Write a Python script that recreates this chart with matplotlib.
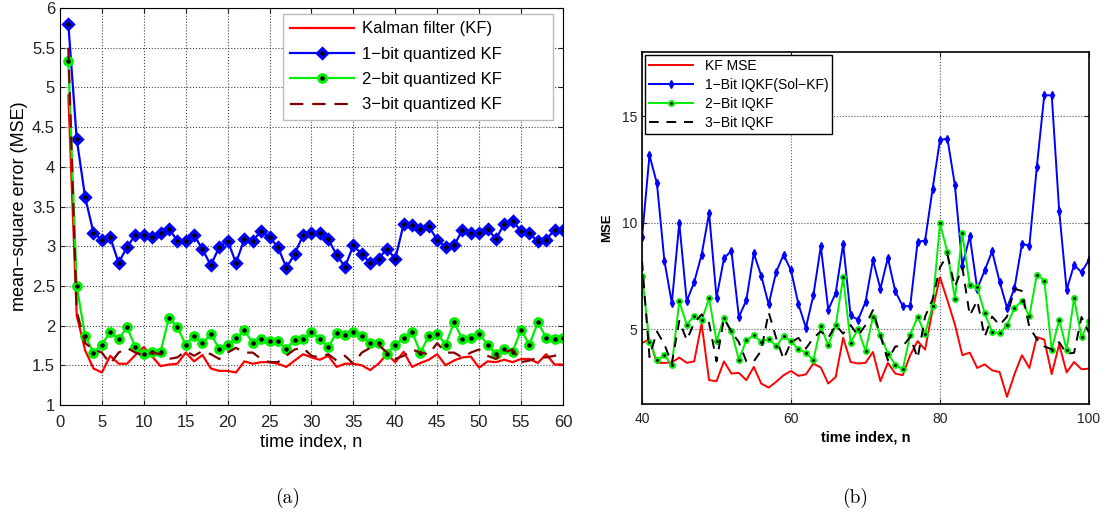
import numpy as np
import matplotlib
matplotlib.use("Agg")
import matplotlib.pyplot as plt

plt.rcParams['font.family'] = ['Liberation Sans', 'DejaVu Sans']

# (a) MSE versus time index, n = 1..60
n_a = np.arange(1, 61)
kf_a = [4.90, 2.13, 1.69, 1.46, 1.41, 1.62, 1.52, 1.52, 1.63, 1.73,
        1.61, 1.49, 1.51, 1.52, 1.66, 1.55, 1.63, 1.46, 1.43, 1.43,
        1.41, 1.55, 1.52, 1.54, 1.54, 1.52, 1.48, 1.56, 1.64, 1.60,
        1.57, 1.62, 1.48, 1.52, 1.52, 1.50, 1.44, 1.52, 1.64, 1.54,
        1.67, 1.48, 1.53, 1.57, 1.64, 1.50, 1.56, 1.60, 1.61, 1.47,
        1.55, 1.54, 1.57, 1.54, 1.58, 1.58, 1.53, 1.64, 1.51, 1.51]
bit1_a = [5.80, 4.35, 3.62, 3.17, 3.08, 3.11, 2.79, 2.99, 3.14, 3.14,
          3.11, 3.16, 3.22, 3.07, 3.07, 3.14, 2.96, 2.76, 2.99, 3.07,
          2.79, 3.09, 3.07, 3.19, 3.11, 2.99, 2.73, 2.90, 3.14, 3.16,
          3.16, 3.09, 2.89, 2.74, 3.01, 2.90, 2.79, 2.84, 2.97, 2.84,
          3.28, 3.27, 3.22, 3.25, 3.08, 2.99, 3.01, 3.20, 3.16, 3.16,
          3.22, 3.09, 3.28, 3.32, 3.19, 3.16, 3.06, 3.08, 3.21, 3.21]
bit2_a = [5.33, 2.50, 1.87, 1.66, 1.76, 1.92, 1.83, 1.98, 1.73, 1.64,
          1.67, 1.67, 2.10, 1.98, 1.76, 1.87, 1.78, 1.89, 1.71, 1.76,
          1.84, 1.94, 1.78, 1.83, 1.81, 1.80, 1.71, 1.82, 1.83, 1.92,
          1.83, 1.73, 1.91, 1.88, 1.92, 1.87, 1.78, 1.78, 1.64, 1.76,
          1.84, 1.92, 1.66, 1.87, 1.90, 1.76, 2.04, 1.83, 1.84, 1.90,
          1.76, 1.64, 1.71, 1.67, 1.95, 1.76, 2.04, 1.85, 1.83, 1.85]
bit3_a = [5.50, 2.18, 1.78, 1.70, 1.66, 1.52, 1.66, 1.72, 1.66, 1.62,
          1.66, 1.64, 1.58, 1.60, 1.68, 1.62, 1.68, 1.64, 1.58, 1.66,
          1.72, 1.66, 1.66, 1.58, 1.54, 1.54, 1.62, 1.70, 1.72, 1.62,
          1.60, 1.64, 1.56, 1.62, 1.52, 1.66, 1.72, 1.76, 1.66, 1.58,
          1.62, 1.70, 1.66, 1.64, 1.78, 1.66, 1.66, 1.60, 1.66, 1.70,
          1.62, 1.58, 1.66, 1.70, 1.54, 1.56, 1.60, 1.60, 1.62, 1.65]

# (b) MSE versus time index, n = 40..100
n_b = np.arange(40, 101)
kf_b = [4.36, 4.53, 3.43, 3.43, 3.45, 3.68, 3.43, 3.50, 5.27, 2.62,
        2.57, 3.50, 2.93, 2.96, 2.62, 3.24, 2.46, 2.27, 2.54, 2.85,
        3.05, 2.82, 2.89, 3.40, 3.21, 2.46, 2.77, 4.61, 3.47, 3.40,
        3.43, 3.94, 2.57, 3.43, 2.93, 2.85, 3.79, 4.45, 4.05, 5.92,
        7.44, 6.36, 5.23, 3.79, 3.91, 3.19, 3.36, 3.08, 3.00, 1.84,
        2.90, 3.79, 3.19, 4.64, 4.52, 2.90, 4.30, 2.98, 3.47, 3.13, 3.16]
bit1_b = [9.31, 13.16, 11.84, 8.22, 6.23, 9.99, 6.32, 7.21, 8.50, 10.45,
          6.48, 8.33, 8.69, 5.58, 6.36, 8.57, 7.52, 6.17, 7.68, 8.50,
          7.76, 6.17, 5.08, 6.59, 8.89, 5.92, 6.70, 9.00, 5.65, 5.45,
          6.28, 8.25, 6.90, 8.35, 6.78, 6.09, 6.09, 9.11, 9.16, 11.57,
          13.88, 13.94, 11.76, 7.99, 9.36, 6.90, 7.76, 8.66, 7.24, 6.01,
          6.93, 9.00, 8.93, 12.62, 15.97, 15.97, 10.56, 6.85, 8.02, 7.68, 8.25]
bit2_b = [7.52, 4.41, 3.55, 3.79, 3.32, 6.31, 5.22, 5.62, 5.42, 6.46,
          4.45, 5.55, 4.92, 3.58, 4.49, 4.72, 4.41, 4.56, 4.21, 4.67,
          4.44, 4.07, 3.91, 3.55, 5.14, 4.25, 5.19, 7.44, 4.38, 5.00,
          3.99, 5.58, 4.75, 3.86, 3.35, 3.12, 4.75, 5.58, 4.80, 6.09,
          9.97, 8.61, 6.43, 9.50, 7.06, 6.98, 5.76, 4.88, 4.83, 5.19,
          6.01, 6.31, 5.62, 7.56, 7.29, 4.05, 5.45, 4.05, 6.46, 4.64, 5.37]
bit3_b = [8.20, 3.70, 4.90, 4.30, 3.40, 5.40, 4.50, 5.30, 5.70, 5.30,
          3.50, 5.50, 4.90, 4.40, 3.50, 3.50, 4.00, 5.80, 4.60, 3.60,
          4.40, 4.60, 4.10, 4.60, 4.90, 4.60, 5.20, 4.80, 5.20, 4.70,
          5.20, 5.90, 4.70, 3.55, 4.20, 4.20, 4.65, 3.65, 5.60, 6.40,
          7.90, 8.50, 7.00, 7.90, 5.65, 6.35, 4.65, 5.60, 5.20, 5.60,
          6.90, 6.80, 5.10, 4.55, 4.20, 4.07, 4.40, 3.86, 3.90, 5.58, 4.85]

fig = plt.figure(figsize=(11.06, 5.18), dpi=100)
ax1 = fig.add_axes([0.0542, 0.2181, 0.4548, 0.7665])
ax2 = fig.add_axes([0.5805, 0.2200, 0.4041, 0.6796])

# --- panel (a) ---
ax1.plot(n_a, kf_a, color='red', lw=1.6, label='Kalman filter (KF)')
ax1.plot(n_a, bit1_a, color='blue', lw=1.6, marker='D', ms=5.5,
         mfc='black', mec='blue', mew=2.2, label='1\u2212bit quantized KF')
ax1.plot(n_a, bit2_a, color='#00ee00', lw=1.6, marker='o', ms=5.5,
         mfc='black', mec='#00ee00', mew=2.2, label='2\u2212bit quantized KF')
ax1.plot(n_a, bit3_a, color='#800000', lw=1.6, ls=(0, (6, 4)),
         label='3\u2212bit quantized KF')
ax1.set_xlim(0, 60)
ax1.set_ylim(1, 6)
ax1.set_xticks(np.arange(0, 61, 5))
ax1.set_yticks(np.arange(1, 6.01, 0.5))
ax1.set_yticklabels(['1', '1.5', '2', '2.5', '3', '3.5', '4', '4.5', '5', '5.5', '6'])
ax1.set_xlabel('time index, n', fontsize=13, labelpad=3)
ax1.set_ylabel('mean\u2212square error (MSE)', fontsize=13, labelpad=3)
ax1.grid(True, ls=':', color='#444444', lw=0.8)
ax1.tick_params(direction='in', top=True, right=True, labelsize=12, colors='#222222')
ax1.tick_params(axis='x', pad=7)
# wide legend box with the entries kept to the left
ax1.legend(loc='upper left', bbox_to_anchor=(0.4433, 0.0, 0.537, 0.985), mode='expand',
           fontsize=12, fancybox=False, edgecolor='#bbbbbb', framealpha=1,
           borderaxespad=0, handlelength=3.8, labelspacing=0.62, borderpad=0.45,
           handletextpad=0.5)
fig.text(0.2605, 0.03, '(a)', fontsize=14, family='cmr10', ha='center')

# --- panel (b) ---
ax2.plot(n_b, kf_b, color='red', lw=1.4, label='KF MSE')
ax2.plot(n_b, bit1_b, color='blue', lw=1.4, marker='d', ms=4,
         mfc='blue', mec='blue', label='1\u2212Bit IQKF(Sol\u2212KF)')
ax2.plot(n_b, bit2_b, color='#00ee00', lw=1.4, marker='o', ms=3.5,
         mfc='black', mec='#00ee00', mew=1.4, label='2\u2212Bit IQKF')
ax2.plot(n_b, bit3_b, color='black', lw=1.4, ls=(0, (5, 4)), label='3\u2212Bit IQKF')
ax2.set_xlim(40, 100)
ax2.set_ylim(1.5, 18)
ax2.set_xticks([40, 60, 80, 100])
ax2.set_yticks([5, 10, 15])
ax2.set_xlabel('time index, n', fontsize=10.5, fontweight='bold', labelpad=3)
ax2.set_ylabel('MSE', fontsize=9.5, fontweight='bold', labelpad=6)
ax2.grid(True, ls=':', color='#555555', lw=0.8)
ax2.tick_params(direction='in', top=True, right=True, labelsize=10, colors='#222222')
ax2.tick_params(axis='x', pad=6)
for s in ax2.spines.values():
    s.set_linewidth(1.2)
ax2.legend(loc='upper left', fontsize=10, fancybox=False, edgecolor='black',
           framealpha=1, borderaxespad=0.2, handlelength=3.2, labelspacing=0.35,
           borderpad=0.3)
fig.text(0.773, 0.03, '(b)', fontsize=14, family='cmr10', ha='center')

fig.savefig('out.png', dpi=100)
